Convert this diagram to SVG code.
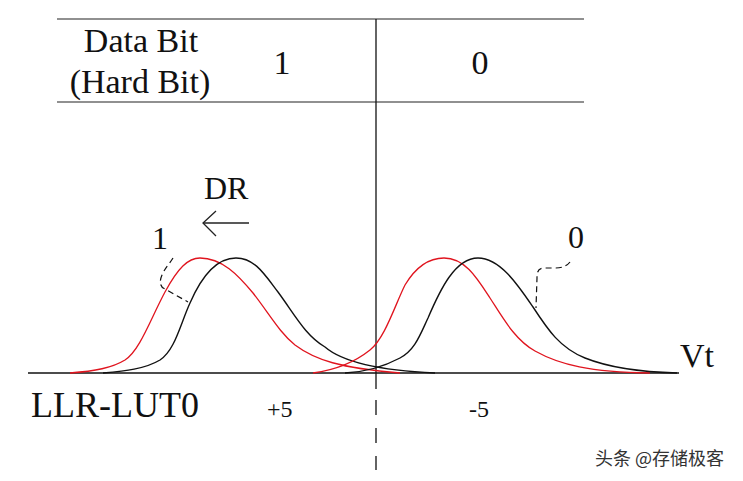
<svg xmlns="http://www.w3.org/2000/svg" width="743" height="481" viewBox="0 0 743 481">
<style>
.t{font-family:"Liberation Serif","Times New Roman",serif;fill:#111}
.ln{stroke:#222;stroke-width:1.2;fill:none}
.blk{stroke:#111;stroke-width:1.4;fill:none}
.red{stroke:#e0141e;stroke-width:1.3;fill:none}
.dash{stroke:#111;stroke-width:1.2;fill:none;stroke-dasharray:6,4}
.wm{font-family:"Noto Sans CJK SC","Noto Sans",sans-serif;font-size:18px;fill:#333;stroke:#fff;stroke-width:0.6;paint-order:stroke}
</style>
<rect width="743" height="481" fill="#fff"/>
<g id="table">
<line class="ln" x1="57" y1="19" x2="584" y2="19"/>
<line class="ln" x1="57" y1="102" x2="584" y2="102"/>
<text class="t" x="141" y="52" font-size="34" text-anchor="middle">Data Bit</text>
<text class="t" x="140" y="93" font-size="34" text-anchor="middle">(Hard Bit)</text>
<text class="t" x="282" y="74" font-size="34" text-anchor="middle">1</text>
<text class="t" x="480" y="74" font-size="34" text-anchor="middle">0</text>
</g>
<g id="axis">
<line x1="376" y1="19" x2="376" y2="389" stroke="#111" stroke-width="1.3"/>
<line x1="376" y1="400" x2="376" y2="470" stroke="#111" stroke-width="1.3" stroke-dasharray="15,13"/>
<line x1="28" y1="373" x2="679" y2="373" stroke="#111" stroke-width="1.6"/>
<text class="t" x="680" y="367" font-size="34">Vt</text>
</g>
<g id="curves">
<path class="red" d="M70,373 C95,371 112,368 125,360 C140,350 150,320 165,292 C178,268 188,258 200,258 C222,258 238,275 253,293 C270,315 280,333 295,345 C315,360 340,368 400,373"/>
<path class="blk" d="M103,373 C125,371 145,369 160,360 C175,350 180,325 190,303 C200,280 215,258 236,258 C255,258 265,275 278,292 C295,315 305,335 325,347 C340,360 370,370 435,373"/>
<path class="red" d="M313,373 C335,370 355,362 370,350 C385,338 395,305 405,285 C417,265 430,258 444,258 C465,258 477,278 490,298 C503,318 515,340 535,351 C560,365 590,372 650,373"/>
<path class="blk" d="M345,373 C365,372 385,366 400,358 C415,350 420,335 428,318 C440,290 455,258 478,258 C500,258 518,285 533,307 C548,330 560,348 585,358 C610,368 640,372 677,373"/>
</g>
<g id="labels">
<text class="t" x="204" y="199" font-size="32">DR</text>
<g id="dr-arrow" stroke="#222" stroke-width="1.3" fill="none">
<line x1="249" y1="223" x2="203" y2="223"/>
<polyline points="216,211 203,223 216,236"/>
</g>
<text class="t" x="152" y="249" font-size="32">1</text>
<text class="t" x="568" y="248" font-size="32">0</text>
<path class="dash" d="M173,258 C170,263 165,268 162,275 C159,282 160,287 165,289 L188,302"/>
<path class="dash" d="M570,262 C567,266 562,268 555,268 L544,268 C538,268 537,272 537,278 L536,308"/>
<text class="t" x="31" y="417" font-size="36">LLR-LUT0</text>
<text class="t" x="267" y="417" font-size="24">+5</text>
<text class="t" x="469" y="417" font-size="24">-5</text>
</g>
<text class="wm" x="595" y="465">头条 @存储极客</text>
</svg>
